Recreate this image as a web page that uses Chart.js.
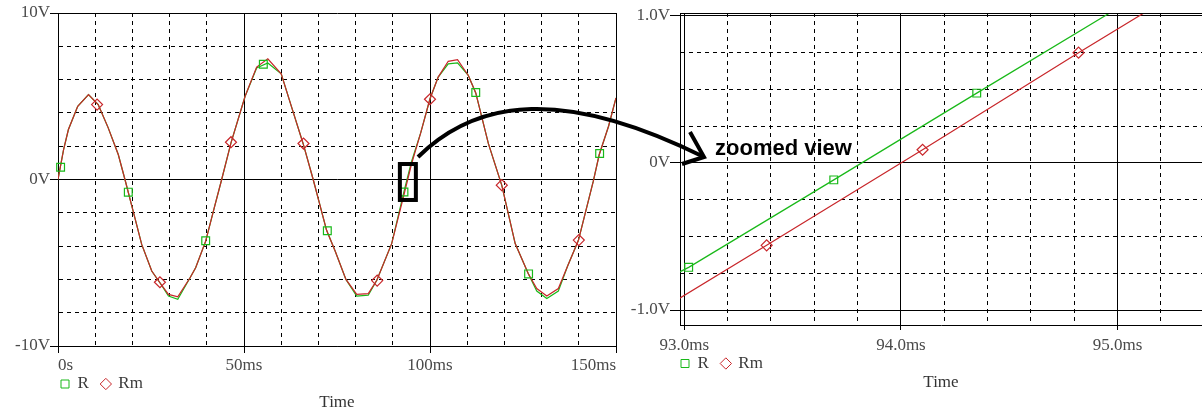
<!DOCTYPE html>
<html>
<head>
<meta charset="utf-8">
<script src="https://cdn.jsdelivr.net/npm/chart.js@4.4.1/dist/chart.umd.min.js"></script>
<style>
  html, body { margin: 0; padding: 0; background: #fff; }
  #wrap { position: relative; width: 1202px; height: 415px; overflow: hidden; }
  #left { position: absolute; left: 0; top: 0; }
  #right { position: absolute; left: 620px; top: 0; }
  #arrow { position: absolute; left: 0; top: 0; pointer-events: none; }
  #note { position: absolute; left: 715px; top: 137px; font: bold 22px/22px "Liberation Sans", Arial, sans-serif; color: #000; white-space: nowrap; }
</style>
</head>
<body>
<div id="wrap">
  <canvas id="left" width="620" height="415"></canvas>
  <canvas id="right" width="582" height="415"></canvas>
  <svg id="arrow" width="1202" height="415" viewBox="0 0 1202 415">
    <path d="M418,157 C478,98 565,88 704,157" fill="none" stroke="#000" stroke-width="4"/>
    <path d="M690,132 L704,157 L682,164" fill="none" stroke="#000" stroke-width="4"/>
  </svg>
  <div id="note">zoomed view</div>
</div>
<script>
// full run, time in ms, voltage in V
const timeMs = [0, 1.5, 2.8, 5.3, 8.2, 10.8, 13.5, 16.2, 18, 20.2, 22.5, 25.2, 27.4, 29.7, 32.2,
  35.5, 37, 39.7, 42, 44, 46.5, 50.3, 53.4, 56.4, 60, 62.8, 65.9, 68.6, 72.2, 74.5,
  77.4, 80.3, 83.4, 85.7, 89.7, 93, 95, 97.5, 100, 102.2, 104.9, 107.4, 110.3, 112.3, 115.7,
  119.3, 122.9, 126.4, 128.7, 131.4, 134.5, 137, 139.9, 143.9, 145.5, 148, 150];
const seriesR = [0, 1.8, 3.0, 4.4, 5.1, 4.5, 3.1, 1.5, 0.0, -1.9, -3.9, -5.5, -6.2, -7.0, -7.2,
  -5.9, -5.3, -3.7, -1.7, 0.0, 2.2, 5.0, 6.7, 7.0, 6.35, 4.35, 2.15, 0.0, -3.05, -4.3,
  -6.0, -7.0, -6.95, -6.05, -3.85, -0.73, 1.05, 2.8, 4.85, 6.15, 6.95, 7.0, 6.25, 5.2, 2.15,
  -0.35, -3.85, -5.65, -6.7, -7.15, -6.7, -5.2, -3.65, -0.1, 1.5, 3.2, 4.9];
const seriesRm = [0, 1.8, 3.0, 4.4, 5.1, 4.5, 3.1, 1.5, 0.0, -1.9, -3.9, -5.5, -6.2, -6.9, -7.05,
  -5.9, -5.3, -3.7, -1.7, 0.0, 2.2, 5.0, 6.75, 7.25, 6.35, 4.35, 2.15, 0.0, -3.05, -4.3,
  -6.0, -6.9, -6.85, -6.05, -3.85, -0.92, 0.9, 2.8, 4.85, 6.15, 7.1, 7.2, 6.25, 5.2, 2.15,
  -0.35, -3.85, -5.65, -6.55, -7.0, -6.55, -5.2, -3.65, -0.1, 1.5, 3.2, 4.9];

// symbol markers
const markRTime = [0.7, 18.9, 39.7, 55.2, 72.4, 93.0, 112.3, 126.5, 145.6];
const markRValue = [0.74, -0.76, -3.68, 6.92, -3.08, -0.75, 5.23, -5.67, 1.56];
const markRmTime = [10.5, 27.4, 46.5, 66.0, 85.8, 100.0, 119.3, 140.0];
const markRmValue = [4.5, -6.17, 2.24, 2.16, -6.07, 4.82, -0.34, -3.64];

// zoomed window around 94 ms
const zoomTimeR = [92.9, 93.02, 93.69, 94.35, 95.02];
const zoomR = [-0.80, -0.71, -0.115, 0.475, 1.07];
const zoomTimeRm = [92.9, 93.38, 94.10, 94.82, 95.2];
const zoomRm = [-0.99, -0.56, 0.09, 0.75, 1.09];
const zoomMarkRTime = [93.02, 93.69, 94.35];
const zoomMarkRValue = [-0.71, -0.115, 0.475];
const zoomMarkRmTime = [93.38, 94.10, 94.82];
const zoomMarkRmValue = [-0.56, 0.09, 0.75];

// labelled (major) ticks
const leftXMajor = [0, 50, 100, 150];
const leftXLabels = ['0s', '50ms', '100ms', '150ms'];
const leftYMajor = [10, 0, -10];
const leftYLabels = ['10V', '0V', '-10V'];
const rightXMajor = [93, 94, 95];
const rightXLabels = ['93.0ms', '94.0ms', '95.0ms'];
const rightYMajor = [1, 0, -1];
const rightYLabels = ['1.0V', '0V', '-1.0V'];

const GREEN = '#19b919';
const RED = '#c8262a';
const FONT = { family: '"Liberation Serif", "DejaVu Serif", serif', size: 17 };
const CLEAR = 'rgba(0,0,0,0)';

const pts = (xs, ys) => xs.map((x, i) => ({ x: x, y: ys[i] }));
const majorIndex = (list, v) => list.findIndex(m => Math.abs(m - v) < 1e-6);

function scaleOpts(o) {
  return {
    type: 'linear',
    position: o.position,
    min: o.min,
    max: o.max,
    afterFit: s => {
      if (o.width !== undefined) s.width = o.width;
      if (o.height !== undefined) s.height = o.height;
    },
    ticks: {
      stepSize: o.step,
      includeBounds: false,
      autoSkip: false,
      maxRotation: 0,
      minRotation: 0,
      align: o.align || 'center',
      padding: o.pad,
      color: '#4a4a4a',
      font: FONT,
      callback: v => {
        const i = majorIndex(o.major, v);
        return i < 0 ? '' : o.labels[i];
      }
    },
    grid: {
      color: '#000',
      lineWidth: 1,
      tickLength: o.tick,
      tickColor: c => (c.tick && majorIndex(o.major, c.tick.value) >= 0) ? '#000' : CLEAR
    },
    border: {
      display: true,
      color: '#000',
      width: 1,
      dash: c => (c.tick && majorIndex(o.major, c.tick.value) < 0) ? [4, 4] : []
    }
  };
}

function lineSet(label, data, color, style, order) {
  return {
    label, data, order,
    borderColor: color, backgroundColor: CLEAR, borderWidth: 1.2, tension: 0,
    pointRadius: 0, pointHoverRadius: 0, pointStyle: style,
    pointBorderColor: color, pointBackgroundColor: CLEAR, pointBorderWidth: 1
  };
}

function markSet(data, color, style, order) {
  return {
    label: '', data, order, showLine: false, clip: false,
    borderColor: color, backgroundColor: CLEAR,
    pointStyle: style, pointRadius: 5.5, pointHoverRadius: 5.5,
    pointBorderColor: color, pointBackgroundColor: CLEAR, pointBorderWidth: 1.2
  };
}

// moves the legend block to where the original puts it
const legendNudge = {
  id: 'legendNudge',
  afterLayout(chart, args, o) {
    const lg = chart.legend;
    if (!lg) return;
    lg.left += o.dx; lg.right += o.dx;
    lg.top += o.dy; lg.bottom += o.dy;
  }
};

// the small rectangle marking the zoomed region
const zoomBox = {
  id: 'zoomBox',
  afterDatasetsDraw(chart, args, o) {
    if (!o.show) return;
    const { ctx, scales: { x, y } } = chart;
    const x0 = x.getPixelForValue(o.t0), x1 = x.getPixelForValue(o.t1);
    const y0 = y.getPixelForValue(o.v1), y1 = y.getPixelForValue(o.v0);
    ctx.save();
    ctx.strokeStyle = '#000';
    ctx.lineWidth = 4;
    ctx.strokeRect(x0, y0, x1 - x0, y1 - y0);
    ctx.restore();
  }
};

// top frame line of the zoomed plot
const topBorder = {
  id: 'topBorder',
  afterDraw(chart, args, o) {
    if (!o.show) return;
    const { ctx, chartArea: a } = chart;
    ctx.save();
    ctx.strokeStyle = '#000';
    ctx.lineWidth = 1;
    ctx.beginPath();
    ctx.moveTo(a.left, a.top + 0.5);
    ctx.lineTo(a.right, a.top + 0.5);
    ctx.stroke();
    ctx.restore();
  }
};

function makeChart(id, datasets, x, y, layout, nudge, titlePad, extra) {
  return new Chart(document.getElementById(id), {
    type: 'line',
    data: { datasets },
    plugins: [legendNudge, zoomBox, topBorder],
    options: {
      responsive: false,
      animation: false,
      devicePixelRatio: 1,
      events: [],
      layout: { padding: layout, autoPadding: false },
      scales: { x: scaleOpts(x), y: scaleOpts(y) },
      plugins: {
        tooltip: { enabled: false },
        legend: {
          display: true,
          position: 'bottom',
          align: 'start',
          fullSize: false,
          labels: {
            usePointStyle: true,
            boxWidth: 8,
            boxHeight: 8,
            padding: 13,
            color: '#3a3a3a',
            font: FONT,
            filter: item => item.text !== '',
            sort: (a, b) => a.datasetIndex - b.datasetIndex
          }
        },
        title: {
          display: true,
          text: 'Time',
          position: 'bottom',
          fullSize: false,
          align: 'center',
          color: '#333',
          font: { family: FONT.family, size: 17, weight: 'normal' },
          padding: titlePad
        },
        legendNudge: nudge,
        zoomBox: extra.zoomBox || { show: false },
        topBorder: extra.topBorder || { show: false }
      }
    }
  });
}

makeChart('left',
  [
    lineSet('R', pts(timeMs, seriesR), GREEN, 'rect', 1),
    lineSet('Rm', pts(timeMs, seriesRm), RED, 'rectRot', 0),
    markSet(pts(markRTime, markRValue), GREEN, 'rect', -1),
    markSet(pts(markRmTime, markRmValue), RED, 'rectRot', -2)
  ],
  { position: 'bottom', min: 0, max: 150, step: 10, major: leftXMajor, labels: leftXLabels,
    tick: 7, pad: 2, height: 29, align: 'inner' },
  { position: 'left', min: -10, max: 10, step: 2, major: leftYMajor, labels: leftYLabels,
    tick: 8, pad: 0, width: 58 },
  { top: 13, right: 4, bottom: 0, left: 0 },
  { dx: -10, dy: -12.5 },
  { top: -22.7, bottom: 0 },
  { zoomBox: { show: true, t0: 91.9, t1: 96.2, v0: -1.23, v1: 0.93 } }
);

makeChart('right',
  [
    lineSet('R', pts(zoomTimeR, zoomR), GREEN, 'rect', 1),
    lineSet('Rm', pts(zoomTimeRm, zoomRm), RED, 'rectRot', 0),
    markSet(pts(zoomMarkRTime, zoomMarkRValue), GREEN, 'rect', -1),
    markSet(pts(zoomMarkRmTime, zoomMarkRmValue), RED, 'rectRot', -2)
  ],
  { position: 'bottom', min: 92.98, max: 95.39, step: 0.2, major: rightXMajor, labels: rightXLabels,
    tick: 5, pad: 5, height: 31 },
  { position: 'left', min: -1.102, max: 1.02, step: 0.25, major: rightYMajor, labels: rightYLabels,
    tick: 10, pad: 0, width: 60 },
  { top: 13, right: 0, bottom: 19, left: 0 },
  { dx: -12, dy: -14 },
  { top: -23.7, bottom: 0 },
  { topBorder: { show: true } }
);
</script>
</body>
</html>
